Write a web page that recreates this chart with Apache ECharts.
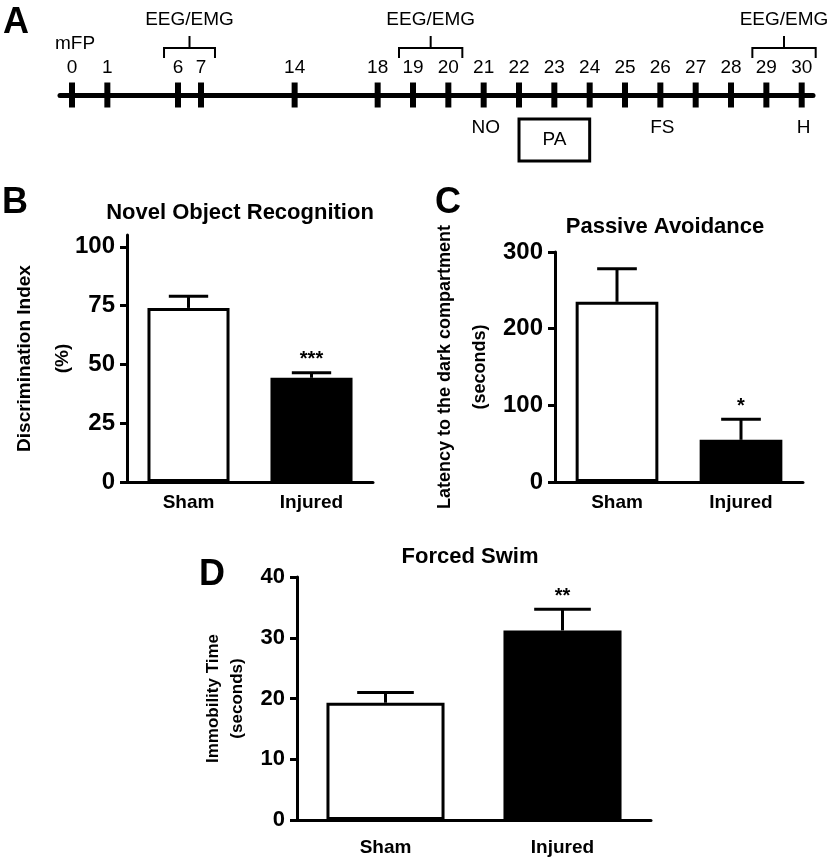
<!DOCTYPE html>
<html><head><meta charset="utf-8">
<script src="https://cdn.jsdelivr.net/npm/echarts@6/dist/echarts.min.js"></script>
<style>html,body{margin:0;padding:0;background:#fff}#c{width:829px;height:857px}</style>
</head><body><div id="c"></div>
<script>
// ---------- Panel A: experimental timeline ----------
const days = [0, 1, 6, 7, 14, 18, 19, 20, 21, 22, 23, 24, 25, 26, 27, 28, 29, 30];
// schematic horizontal position of each day on the (non-linear) timeline
const dayPos = [0, 1, 3, 3.65, 6.3, 8.65, 9.65, 10.65, 11.65, 12.65, 13.65, 14.65, 15.65, 16.65, 17.65, 18.65, 19.65, 20.65];
const surgeryDay = 0;
const surgeryLabel = 'mFP';
const eegWindows = [[6, 7], [19, 20], [29, 30]];
const eegLabel = 'EEG/EMG';
const testDays = [21, 26, 30];
const testLabels = ['NO', 'FS', 'H'];
const paWindow = [22, 24];
const paLabel = 'PA';

// ---------- Panels B-D: bar charts ----------
const groups = ['Sham', 'Injured'];
const norMean = [74, 44.3];
const norSem = [5, 2.1];
const norSig = ['', '***'];
const norTicks = [0, 25, 50, 75, 100];
const paMean = [235, 55];
const paSem = [43, 27];
const paSig = ['', '*'];
const paTicks = [0, 100, 200, 300];
const fsMean = [19.3, 31.2];
const fsSem = [1.7, 3.5];
const fsSig = ['', '**'];
const fsTicks = [0, 10, 20, 30, 40];

const FONT = '"Liberation Sans", Arial, Helvetica, sans-serif';
const pos = d => dayPos[days.indexOf(d)];

const chart = echarts.init(document.getElementById('c'), null, {renderer: 'canvas'});

function barAxes(k, ticks, max, interval, name, nameGap, nameSize, nameLH, labelSize, catMargin) {
  return {
    x: {
      type: 'category', gridIndex: k, data: groups,
      axisLine: {show: true, lineStyle: {color: '#000', width: 3}},
      axisTick: {show: false},
      axisLabel: {color: '#000', fontSize: 19, fontWeight: 'bold', fontFamily: FONT, margin: catMargin},
      splitLine: {show: false}
    },
    y: {
      type: 'value', gridIndex: k, min: 0, max: max, interval: interval,
      axisLine: {show: true, lineStyle: {color: '#000', width: 3}},
      axisTick: {show: true, inside: false, length: 7, lineStyle: {color: '#000', width: 3}, customValues: ticks},
      axisLabel: {color: '#000', fontSize: labelSize, fontWeight: 'bold', fontFamily: FONT, margin: 12, customValues: ticks},
      splitLine: {show: false},
      name: name, nameLocation: 'middle', nameRotate: 90, nameGap: nameGap, nameMoveOverlap: false,
      nameTextStyle: {color: '#000', fontSize: nameSize, fontWeight: 'bold', fontFamily: FONT, lineHeight: nameLH, align: 'center'}
    }
  };
}

function barSeries(k, mean) {
  return {
    type: 'bar', xAxisIndex: k, yAxisIndex: k, barWidth: '66.7%', silent: true,
    data: mean.map((v, i) => ({
      value: v,
      itemStyle: i === 0 ? {color: '#fff', borderColor: '#000', borderWidth: 3, opacity: 1}
                         : {color: '#000', borderColor: '#000', borderWidth: 3, opacity: 1}
    }))
  };
}

function errSeries(k, mean, sem, sig) {
  return {
    type: 'custom', xAxisIndex: k, yAxisIndex: k, clip: false, silent: true, z: 3,
    data: mean.map((m, i) => [i, m + sem[i]]),
    renderItem: function (params, api) {
      const i = params.dataIndex;
      const base = api.coord([i, mean[i]]);
      const top = api.coord([i, mean[i] + sem[i]]);
      const hw = api.size([1, 0])[0] * 0.16;
      return {
        type: 'group', children: [
          {type: 'line', shape: {x1: base[0], y1: base[1], x2: top[0], y2: top[1]}, style: {stroke: '#000', lineWidth: 3}},
          {type: 'line', shape: {x1: top[0] - hw, y1: top[1], x2: top[0] + hw, y2: top[1]}, style: {stroke: '#000', lineWidth: 3}},
          {type: 'text', style: {text: sig[i], x: top[0], y: top[1] - 3, align: 'center', verticalAlign: 'bottom',
            fontSize: 20, fontWeight: 'bold', fontFamily: FONT, fill: '#000'}}
        ]
      };
    }
  };
}

const aB = barAxes(1, norTicks, 105, 25, 'Discrimination Index\n(%)', 45, 19, 38, 24, 11);
const aC = barAxes(2, paTicks, 300, 100, 'Latency to the dark compartment\n(seconds)', 57, 18, 35, 24, 11);
const aD = barAxes(3, fsTicks, 40, 10, 'Immobility Time\n(seconds)', 48, 17, 24, 22, 18);

function txt(text, x, y, size, weight) {
  return {type: 'text', x: x, y: y, silent: true,
    style: {text: text, fontSize: size, fontWeight: weight || 'bold', fontFamily: FONT, fill: '#000', align: 'center', verticalAlign: 'middle'}};
}

const option = {
  backgroundColor: '#fff',
  animation: false,
  grid: [
    {left: 60, top: 83, width: 753, height: 24, containLabel: false, outerBoundsMode: 'none'},
    {left: 127, top: 235, width: 246, height: 247, containLabel: false, outerBoundsMode: 'none'},
    {left: 555, top: 252, width: 248, height: 230, containLabel: false, outerBoundsMode: 'none'},
    {left: 297, top: 577, width: 354, height: 243, containLabel: false, outerBoundsMode: 'none'}
  ],
  xAxis: [
    {type: 'value', gridIndex: 0, min: -0.34, max: 20.97,
      axisLine: {show: true, onZero: true, lineStyle: {color: '#000', width: 5}},
      axisTick: {show: false}, axisLabel: {show: false}, splitLine: {show: false}},
    aB.x, aC.x, aD.x
  ],
  yAxis: [
    {type: 'value', gridIndex: 0, min: -1, max: 1, show: false, splitLine: {show: false}},
    aB.y, aC.y, aD.y
  ],
  graphic: [
    txt('A', 16, 23, 36), txt('B', 15, 203, 36), txt('C', 448, 203, 36), txt('D', 212, 575, 36),
    txt('Novel Object Recognition', 240, 213, 22),
    txt('Passive Avoidance', 665, 227, 22),
    txt('Forced Swim', 470, 557, 22)
  ],
  series: [
    {
      type: 'scatter', xAxisIndex: 0, yAxisIndex: 0, silent: true, z: 3,
      data: days.map((d, i) => [dayPos[i], 0, d]),
      symbol: 'rect', symbolSize: [6, 25], itemStyle: {color: '#000', opacity: 1},
      label: {show: true, position: 'top', distance: 5, formatter: p => String(p.data[2]),
        fontSize: 19, fontFamily: FONT, color: '#000', opacity: 1}
    },
    {
      type: 'custom', xAxisIndex: 0, yAxisIndex: 0, clip: false, silent: true,
      data: eegWindows,
      renderItem: function (params, api) {
        const w = eegWindows[params.dataIndex];
        const a = api.coord([pos(w[0]), 0]);
        const b = api.coord([pos(w[1]), 0]);
        const y0 = a[1], x1 = a[0] - 14, x2 = b[0] + 14, xm = (x1 + x2) / 2;
        return {type: 'group', children: [
          {type: 'polyline', shape: {points: [[x1, y0 - 37], [x1, y0 - 47], [x2, y0 - 47], [x2, y0 - 37]]},
            style: {stroke: '#000', lineWidth: 2, fill: null}},
          {type: 'line', shape: {x1: xm, y1: y0 - 47, x2: xm, y2: y0 - 59}, style: {stroke: '#000', lineWidth: 2}},
          {type: 'text', style: {text: eegLabel, x: xm, y: y0 - 75, align: 'center', verticalAlign: 'middle',
            fontSize: 19, fontFamily: FONT, fill: '#000'}}
        ]};
      }
    },
    {
      type: 'custom', xAxisIndex: 0, yAxisIndex: 0, clip: false, silent: true,
      data: [[surgeryDay, 0]],
      renderItem: function (params, api) {
        const a = api.coord([pos(surgeryDay), 0]);
        return {type: 'text', style: {text: surgeryLabel, x: a[0] + 3, y: a[1] - 51, align: 'center', verticalAlign: 'middle',
          fontSize: 19, fontFamily: FONT, fill: '#000'}};
      }
    },
    {
      type: 'custom', xAxisIndex: 0, yAxisIndex: 0, clip: false, silent: true,
      data: testDays.map(d => [d, 0]),
      renderItem: function (params, api) {
        const a = api.coord([pos(testDays[params.dataIndex]), 0]);
        return {type: 'text', style: {text: testLabels[params.dataIndex], x: a[0] + 2, y: a[1] + 33, align: 'center', verticalAlign: 'middle',
          fontSize: 19, fontFamily: FONT, fill: '#000'}};
      }
    },
    {
      type: 'custom', xAxisIndex: 0, yAxisIndex: 0, clip: false, silent: true,
      data: [paWindow],
      renderItem: function (params, api) {
        const a = api.coord([pos(paWindow[0]), 0]);
        const b = api.coord([pos(paWindow[1]), 0]);
        const y0 = a[1];
        return {type: 'group', children: [
          {type: 'rect', shape: {x: a[0], y: y0 + 24, width: b[0] - a[0], height: 42},
            style: {stroke: '#000', lineWidth: 3, fill: '#fff'}},
          {type: 'text', style: {text: paLabel, x: (a[0] + b[0]) / 2, y: y0 + 45, align: 'center', verticalAlign: 'middle',
            fontSize: 19, fontFamily: FONT, fill: '#000'}}
        ]};
      }
    },
    barSeries(1, norMean), errSeries(1, norMean, norSem, norSig),
    barSeries(2, paMean), errSeries(2, paMean, paSem, paSig),
    barSeries(3, fsMean), errSeries(3, fsMean, fsSem, fsSig)
  ]
};
chart.setOption(option);
</script>
</body></html>
